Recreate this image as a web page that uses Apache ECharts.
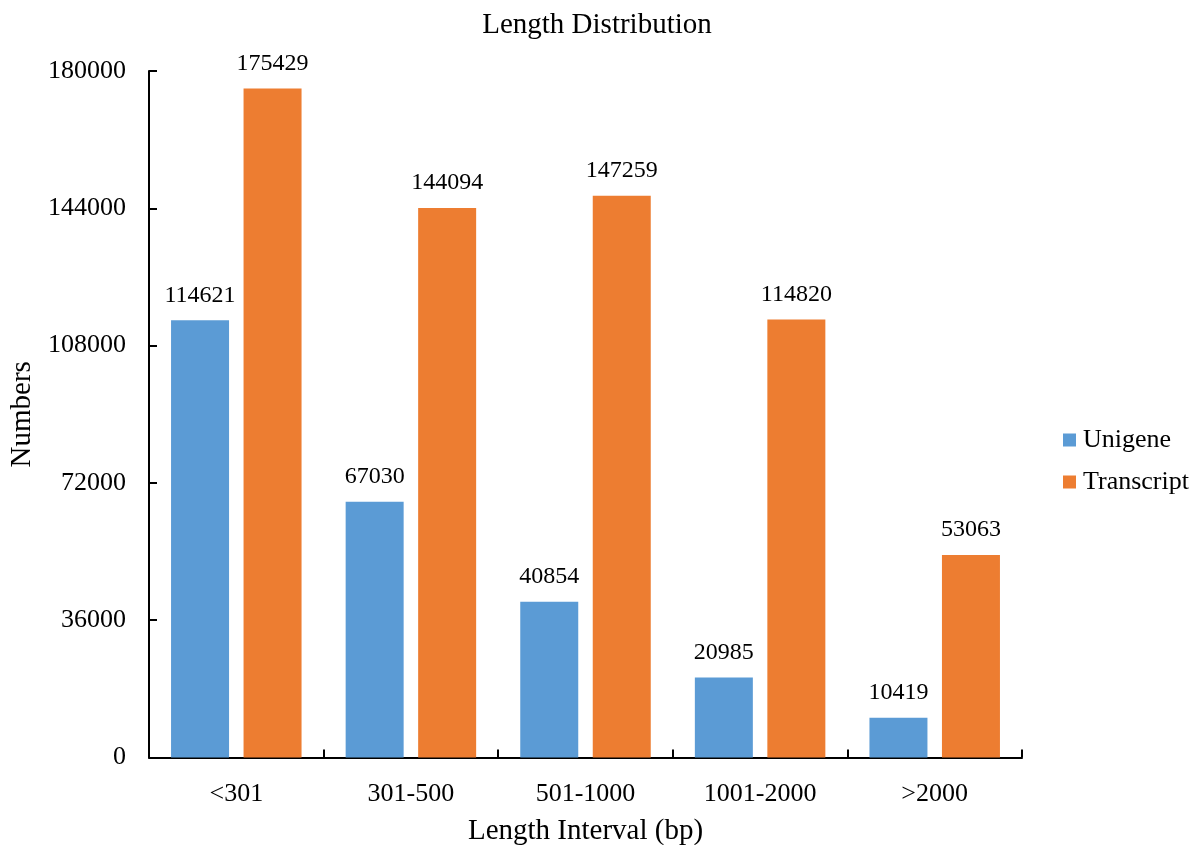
<!DOCTYPE html>
<html>
<head>
<meta charset="utf-8">
<script src="https://cdn.jsdelivr.net/npm/echarts@6/dist/echarts.min.js"></script>
<style>
  html, body { margin: 0; padding: 0; background: #fff; }
  #chart { width: 1194px; height: 845px; }
</style>
</head>
<body>
<div id="chart"></div>
<script>
// Length intervals (bp) and counts per interval
const categories = ['<301', '301-500', '501-1000', '1001-2000', '>2000'];
const unigene = [114621, 67030, 40854, 20985, 10419];
const transcript = [175429, 144094, 147259, 114820, 53063];
const seriesNames = ['Unigene', 'Transcript'];

const FONT = '"Liberation Serif", "Times New Roman", serif';
const chart = echarts.init(document.getElementById('chart'), null, { renderer: 'canvas' });

const labelStyle = {
  show: true,
  position: 'top',
  distance: 13,
  color: '#000',
  fontFamily: FONT,
  fontSize: 24
};

chart.setOption({
  animation: false,
  backgroundColor: '#fff',
  title: {
    text: 'Length Distribution',
    left: 'center',
    top: 6,
    textStyle: { fontFamily: FONT, fontSize: 29, fontWeight: 'normal', color: '#000' }
  },
  legend: {
    orient: 'vertical',
    left: 1063,
    top: 427,
    padding: 0,
    itemWidth: 13,
    itemHeight: 13,
    itemGap: 16,
    icon: 'rect',
    textStyle: { fontFamily: FONT, fontSize: 26, color: '#000', padding: [0, 0, 0, 2] },
    data: seriesNames
  },
  grid: { left: 149, right: 172, top: 71, bottom: 87.5, containLabel: false, outerBoundsMode: 'none' },
  xAxis: {
    type: 'category',
    data: categories,
    name: 'Length Interval (bp)',
    nameLocation: 'middle',
    nameGap: 59,
    nameTextStyle: { fontFamily: FONT, fontSize: 29, color: '#000' },
    axisLine: { lineStyle: { color: '#000', width: 2 } },
    axisTick: { show: true, inside: true, length: 8, lineStyle: { color: '#000', width: 2 } },
    axisLabel: { margin: 24, fontFamily: FONT, fontSize: 26, color: '#000' },
    splitLine: { show: false }
  },
  yAxis: {
    type: 'value',
    min: 0,
    max: 180000,
    interval: 36000,
    name: 'Numbers',
    nameLocation: 'middle',
    nameGap: 108,
    nameTextStyle: { fontFamily: FONT, fontSize: 29, color: '#000' },
    axisLine: { show: true, lineStyle: { color: '#000', width: 2 } },
    axisTick: { show: true, inside: true, length: 8, lineStyle: { color: '#000', width: 2 } },
    axisLabel: { margin: 23, fontFamily: FONT, fontSize: 26, color: '#000', formatter: v => String(v) },
    splitLine: { show: false }
  },
  series: [
    {
      name: seriesNames[0],
      type: 'bar',
      data: unigene,
      barWidth: 58,
      barGap: '25%',
      itemStyle: { color: '#5B9BD5' },
      label: labelStyle
    },
    {
      name: seriesNames[1],
      type: 'bar',
      data: transcript,
      barWidth: 58,
      barGap: '25%',
      itemStyle: { color: '#ED7D31' },
      label: labelStyle
    }
  ]
});
</script>
</body>
</html>
